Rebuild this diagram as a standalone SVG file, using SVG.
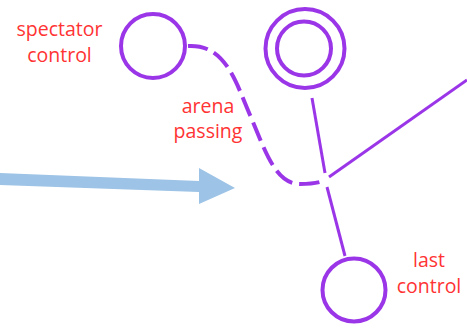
<svg xmlns="http://www.w3.org/2000/svg" width="467" height="329" viewBox="0 0 467 329">
<style>
.node{fill:none;stroke:#9B36E8;stroke-width:4}
.line{fill:none;stroke:#9B36E8;stroke-width:3}
.dash{fill:none;stroke:#9B36E8;stroke-width:4;stroke-dasharray:20 7}
.lbl{font-family:"Open Sans","Noto Sans",sans-serif;font-size:19.5px;fill:#FF3333;text-anchor:middle}
</style>
<rect width="467" height="329" fill="#ffffff"/>
<g id="arrow">
<polygon points="0,173 199,181 199,168 235,188 199,204 199,192 0,185" fill="#9DC3E6"/>
</g>
<g id="connectors">
<path class="dash" d="M188,46 C225,44 235,80 250,115 S275,184 300,184 Q315,184 323,181"/>
<line class="line" x1="312" y1="98" x2="325" y2="173"/>
<line class="line" x1="327" y1="187" x2="345" y2="256"/>
<line class="line" x1="329" y1="177" x2="467" y2="80"/>
</g>
<g id="spectator-control">
<circle class="node" cx="153" cy="46" r="32"/>
<text class="lbl" x="59.5" y="36">spectator</text>
<text class="lbl" x="59.5" y="62">control</text>
</g>
<g id="arena-passing">
<text class="lbl" x="208" y="113">arena</text>
<text class="lbl" x="208" y="138">passing</text>
</g>
<g id="double-node">
<circle class="node" cx="305" cy="48.5" r="39.5"/>
<circle class="node" cx="304" cy="48.5" r="27"/>
</g>
<g id="last-control">
<circle class="node" cx="354" cy="290" r="31.5"/>
<text class="lbl" x="429" y="267">last</text>
<text class="lbl" x="429" y="293">control</text>
</g>
</svg>
